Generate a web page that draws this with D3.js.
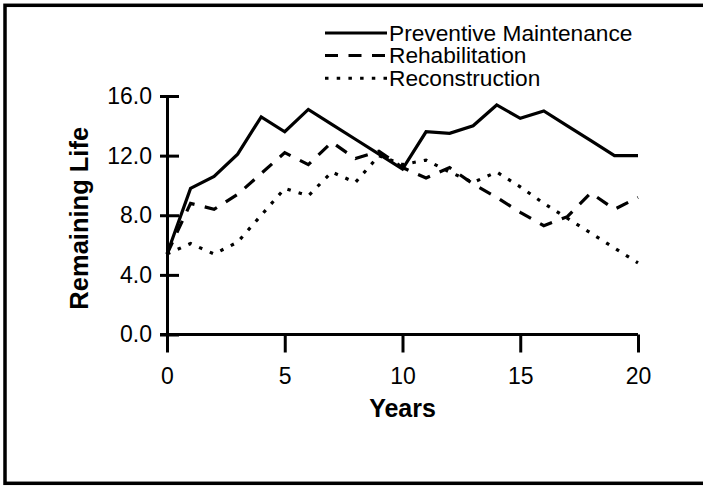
<!DOCTYPE html>
<html>
<head>
<meta charset="utf-8">
<script src="https://cdn.jsdelivr.net/npm/d3@7"></script>
<style>
  body { margin: 0; background: #fff; }
  svg { display: block; font-family: "Liberation Sans", Arial, Helvetica, sans-serif; }
</style>
</head>
<body>
<div id="chart"></div>
<script>
// values
const years = [0, 1, 2, 3, 4, 5, 6, 7, 8, 9, 10, 11, 12, 13, 14, 15, 16, 17, 18, 19, 20];
const preventive = [5.4, 9.8, 10.6, 12.1, 14.6, 13.6, 15.1, 14.1, 13.1, 12.1, 11.1, 13.6, 13.5, 14.0, 15.4, 14.5, 15.0, 14.0, 13.0, 12.0, 12.0];
const rehabilitation = [5.4, 8.8, 8.4, 9.4, 10.8, 12.2, 11.4, 12.9, 11.8, 12.3, 11.2, 10.5, 11.2, 10.1, 9.2, 8.2, 7.3, 7.9, 9.5, 8.4, 9.2];
const reconstruction = [5.4, 6.1, 5.4, 6.2, 8.0, 9.8, 9.3, 10.9, 10.2, 12.0, 11.4, 11.7, 10.9, 10.2, 10.9, 9.9, 8.8, 7.8, 6.8, 5.8, 4.8];
const seriesNames = ["Preventive Maintenance", "Rehabilitation", "Reconstruction"];
const xTicks = [0, 5, 10, 15, 20];
const yTicks = [0, 4, 8, 12, 16];

const width = 703, height = 487;
const dashes = ["none", "13,10.5", "3.5,8.2"];

const svg = d3.select("#chart").append("svg")
    .attr("width", width)
    .attr("height", height);

// frame (right side runs off the picture)
svg.append("rect")
    .attr("x", 5)
    .attr("y", 5.3)
    .attr("width", 730)
    .attr("height", 478)
    .attr("fill", "none")
    .attr("stroke", "#000")
    .attr("stroke-width", 3.5);

const x = d3.scaleLinear().domain([0, 20]).range([167, 638]);
const y = d3.scaleLinear().domain([0, 16]).range([334.5, 96]);

// y axis
const yAxis = svg.append("g")
    .attr("transform", `translate(${x(0)},0)`)
    .call(d3.axisLeft(y).tickValues(yTicks).tickFormat(d3.format(".1f"))
        .tickSize(7).tickSizeOuter(0).tickPadding(8));

yAxis.selectAll(".tick line").attr("x2", -7).attr("x1", 12);

// x axis
const xAxis = svg.append("g")
    .attr("transform", `translate(0,${y(0)})`)
    .call(d3.axisBottom(x).tickValues(xTicks).tickSize(18).tickSizeOuter(0).tickPadding(15));

[yAxis, xAxis].forEach(ax => {
    ax.select(".domain").attr("stroke", "#000").attr("stroke-width", 3);
    ax.selectAll(".tick line").attr("stroke", "#000").attr("stroke-width", 3);
    ax.selectAll(".tick text")
        .attr("fill", "#000")
        .attr("font-size", 23)
        .attr("font-family", "'Liberation Sans', Arial, sans-serif");
});
xAxis.select(".domain").attr("d", `M${x(0) - 7},0H${x(20)}`);

// axis titles
svg.append("text")
    .attr("x", x(10))
    .attr("y", 417)
    .attr("text-anchor", "middle")
    .attr("font-size", 25)
    .attr("font-weight", "bold")
    .text("Years");

svg.append("text")
    .attr("transform", `translate(88,${(y(0) + y(16)) / 2 + 3}) rotate(-90)`)
    .attr("text-anchor", "middle")
    .attr("font-size", 25.5)
    .attr("font-weight", "bold")
    .text("Remaining Life");

// lines
const line = d3.line()
    .x((d, i) => x(years[i]))
    .y(d => y(d));

[preventive, rehabilitation, reconstruction].forEach((vals, k) => {
    svg.append("path")
        .datum(vals)
        .attr("d", line)
        .attr("fill", "none")
        .attr("stroke", "#000")
        .attr("stroke-width", 3.2)
        .attr("stroke-linejoin", "miter")
        .attr("stroke-dasharray", dashes[k]);
});

// legend
const legend = svg.append("g");
seriesNames.forEach((name, k) => {
    const ly = 33 + k * 22.6;
    legend.append("line")
        .attr("x1", 325)
        .attr("x2", 387)
        .attr("y1", ly)
        .attr("y2", ly)
        .attr("stroke", "#000")
        .attr("stroke-width", 3)
        .attr("stroke-dasharray", dashes[k]);
    legend.append("text")
        .attr("x", 389)
        .attr("y", ly + 7.5)
        .attr("font-size", 22.7)
        .text(name);
});
</script>
</body>
</html>
